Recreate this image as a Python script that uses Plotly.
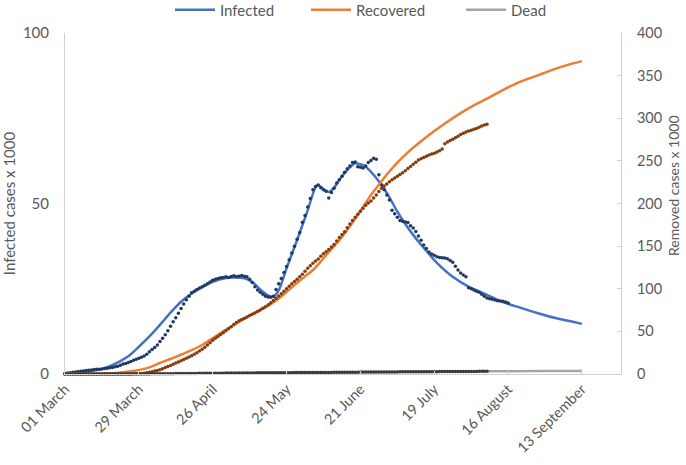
import pandas as pd
import plotly.graph_objects as go

start_date = "2020-03-01"

# Observed (daily, thousands)
infected_obs = [
    0.2, 0.3, 0.4, 0.5, 0.6, 0.7, 0.8, 0.9, 1.0, 1.1,
    1.2, 1.3, 1.4, 1.4, 1.5, 1.6, 1.7, 1.8, 1.9, 2.1,
    2.3, 2.6, 2.9, 3.1, 3.4, 3.7, 4.0, 4.3, 4.6, 4.9,
    5.3, 5.8, 6.5, 7.2, 7.8, 8.5, 9.5, 10.5, 11.5, 12.7,
    14.0, 15.3, 16.5, 17.8, 19.2, 20.5, 21.8, 22.8, 23.8, 24.3,
    24.8, 25.2, 25.6, 26.0, 26.5, 27.0, 27.5, 27.8, 28.0, 28.2,
    28.3, 28.5, 28.3, 28.6, 28.8, 28.6, 28.7, 28.9, 28.7, 28.5,
    27.8, 26.8, 25.6, 24.6, 24.0, 23.4, 22.8, 22.6, 22.5, 22.8,
    24.8, 26.5, 28.0, 29.8, 31.5, 33.5, 35.5, 37.5, 39.5, 41.5,
    44.5, 46.5, 49.0, 51.5, 54.0, 55.0, 55.4, 54.6, 54.0, 53.6,
    51.6, 53.2, 54.5, 56.0, 57.0, 58.0, 59.2, 60.2, 61.0, 62.0,
    62.2, 60.8, 60.6, 60.4, 61.0, 62.0, 62.6, 63.3, 63.0, 58.4,
    55.5, 54.0, 52.5, 51.0, 48.0, 47.0, 46.0, 45.0, 44.8, 44.6,
    44.4, 43.5, 42.8, 41.8, 40.5, 39.2, 37.8, 36.8, 35.8, 35.2,
    34.8, 34.4, 34.2, 34.1, 34.0, 33.8, 33.3, 32.8, 31.6, 30.5,
    29.6, 29.0, 28.5, 25.3, 25.0, 24.6, 24.3, 24.0, 23.4, 22.8,
    22.3, 22.1, 21.9, 21.7, 21.5, 21.4, 21.3, 21.1, 20.8,
]

recovered_obs = [
    0, 0, 0, 0, 0, 0, 0, 0, 0, 0,
    0, 0, 0, 0, 0, 0, 0, 0, 0, 0,
    0, 0, 0, 0, 0, 0, 0.2, 0.3, 0.5, 0.7,
    1.0, 1.4, 2.0, 2.7, 3.5, 4.2, 5.0, 6.2, 7.5, 8.8,
    10.0, 11.5, 13.0, 14.2, 15.5, 17.0, 18.5, 20.0, 21.5, 23.2,
    25.0, 27.0, 29.0, 31.5, 34.0, 36.8, 39.5, 41.8, 44.0, 46.2,
    48.5, 50.8, 53.0, 55.5, 58.0, 60.3, 62.5, 64.0, 65.5, 67.0,
    68.5, 70.0, 71.5, 73.2, 75.0, 77.0, 79.0, 81.2, 83.5, 86.2,
    89.0, 91.5, 94.0, 97.0, 100.0, 103.0, 106.0, 108.5, 111.0, 114.0,
    117.0, 120.5, 124.0, 127.0, 130.0, 132.5, 135.0, 138.0, 141.0, 143.5,
    146.0, 149.0, 152.0, 156.0, 160.0, 163.5, 167.0, 171.5, 176.0, 180.0,
    184.0, 187.5, 191.0, 194.5, 198.0, 200.5, 203.0, 206.5, 210.0, 214.0,
    218.0, 220.5, 223.0, 225.5, 228.0, 230.0, 232.0, 234.0, 236.0, 238.5,
    241.0, 243.5, 246.0, 248.5, 251.0, 252.5, 254.0, 255.5, 257.0, 258.0,
    259.0, 260.5, 262.0, 264.0, 270.0, 272.0, 274.0, 275.5, 277.0, 279.0,
    281.0, 282.5, 284.0, 285.0, 286.0, 287.0, 288.0, 289.5, 291.0, 292.0, 293.0,
]

dead_obs = [
    0, 0, 0, 0, 0, 0, 0, 0, 0, 0,
    0, 0, 0, 0, 0, 0, 0, 0, 0, 0,
    0, 0, 0, 0, 0, 0, 0, 0, 0, 0,
    0.1, 0.1, 0.1, 0.2, 0.2, 0.2, 0.3, 0.3, 0.3, 0.4,
    0.4, 0.4, 0.5, 0.5, 0.5, 0.6, 0.6, 0.6, 0.7, 0.7,
    0.7, 0.8, 0.8, 0.8, 0.9, 0.9, 0.9, 1.0, 1.0, 1.0,
    1.0, 1.1, 1.1, 1.1, 1.1, 1.2, 1.2, 1.2, 1.2, 1.3,
    1.3, 1.3, 1.3, 1.4, 1.4, 1.4, 1.4, 1.5, 1.5, 1.5,
    1.5, 1.5, 1.6, 1.6, 1.6, 1.6, 1.6, 1.7, 1.7, 1.7,
    1.7, 1.7, 1.8, 1.8, 1.8, 1.8, 1.8, 1.9, 1.9, 1.9,
    1.9, 1.9, 2.0, 2.0, 2.0, 2.0, 2.0, 2.1, 2.1, 2.1,
    2.1, 2.1, 2.2, 2.2, 2.2, 2.2, 2.2, 2.3, 2.3, 2.3,
    2.3, 2.3, 2.4, 2.4, 2.4, 2.4, 2.4, 2.5, 2.5, 2.5,
    2.5, 2.5, 2.6, 2.6, 2.6, 2.6, 2.6, 2.7, 2.7, 2.7,
    2.7, 2.7, 2.8, 2.8, 2.8, 2.8, 2.8, 2.9, 2.9, 2.9,
    2.9, 2.9, 3.0, 3.0, 3.0, 3.0, 3.0, 3.1, 3.1, 3.1, 3.1,
]

# Model curves (day offset from start, thousands)
infected_model_days = [0, 7, 14, 17, 21, 24, 28, 32, 36, 40, 44, 48, 52, 56, 60, 64, 68, 71, 74, 77,
                       79, 81, 84, 88, 92, 95, 96, 98, 100, 102, 104, 107, 110, 112, 114, 116, 118,
                       120, 123, 126, 129, 132, 135, 138, 141, 147, 153, 160, 166, 172, 179, 186, 196]
infected_model = [0, 0.5, 1.5, 2.3, 3.8, 5.2, 8.0, 11.0, 14.4, 18.0, 21.2, 23.6, 25.5, 27.0, 28.0,
                  28.3, 28.1, 27.0, 24.8, 23.0, 22.7, 24.5, 31.0, 39.3, 48.0, 54.8, 55.4, 54.2,
                  53.4, 54.6, 56.9, 59.8, 61.8, 61.5, 60.8, 59.3, 57.5, 55.5, 51.8, 47.6, 44.0,
                  40.8, 37.9, 35.2, 32.6, 28.5, 25.6, 23.2, 21.1, 19.6, 17.9, 16.4, 14.7]

recovered_model_days = [0, 14, 18, 22, 26, 30, 33, 36, 39, 42, 45, 48, 52, 55, 58, 61, 64, 67, 70,
                        74, 78, 82, 85, 88, 91, 94, 97, 100, 104, 107, 110, 113, 116, 119, 122, 126,
                        130, 135, 140, 145, 150, 155, 160, 166, 172, 179, 185, 190, 196]
recovered_model = [0, 0.3, 1.0, 2.0, 3.5, 6.0, 9.0, 13.0, 16.5, 20.0, 24.0, 28.0, 34.0, 40.0, 46.0,
                   52.0, 57.5, 63.0, 68.5, 75.0, 82.0, 91.0, 99.0, 107.0, 114.5, 122.0, 132.0,
                   143.0, 157.0, 169.0, 182.0, 196.0, 210.0, 222.0, 234.0, 248.0, 260.0, 273.0,
                   285.0, 296.0, 306.0, 315.0, 323.0, 333.0, 342.0, 350.0, 357.0, 362.0, 367.0]

dead_model_days = [0, 20, 40, 60, 80, 100, 120, 140, 160, 180, 196]
dead_model = [0, 0, 0.3, 1.0, 1.5, 1.9, 2.3, 2.7, 3.1, 3.4, 3.6]

tick_dates = ["2020-03-01", "2020-03-29", "2020-04-26", "2020-05-24",
              "2020-06-21", "2020-07-19", "2020-08-16", "2020-09-13"]
tick_labels = ["01 March", "29 March", "26 April", "24 May",
               "21 June", "19 July", "16 August", "13 September"]

base = pd.Timestamp(start_date)


def daily(values):
    return [base + pd.Timedelta(days=i) for i in range(len(values))]


def at_days(days):
    return [base + pd.Timedelta(days=d) for d in days]


FONT = "Lato"
TXT = "#595959"
AXC = "#D0D0D0"

fig = go.Figure()

fig.add_trace(go.Scatter(x=at_days(infected_model_days), y=infected_model, name="Infected",
                         mode="lines", line=dict(color="#4472C4", width=2.5, shape="spline", smoothing=0.8),
                         yaxis="y", legendwidth=81))
fig.add_trace(go.Scatter(x=at_days(recovered_model_days), y=recovered_model, name="Recovered",
                         mode="lines", line=dict(color="#ED7D31", width=2.5, shape="spline", smoothing=0.8),
                         yaxis="y2", legendwidth=100))
fig.add_trace(go.Scatter(x=at_days(dead_model_days), y=dead_model, name="Dead",
                         mode="lines", line=dict(color="#A5A5A5", width=2.5, shape="spline", smoothing=0.8),
                         yaxis="y2"))

fig.add_trace(go.Scatter(x=daily(infected_obs), y=infected_obs, mode="markers", showlegend=False,
                         marker=dict(color="#1F3864", size=3.5), yaxis="y", cliponaxis=False))
fig.add_trace(go.Scatter(x=daily(recovered_obs), y=recovered_obs, mode="markers", showlegend=False,
                         marker=dict(color="#843C0C", size=3.5), yaxis="y2", cliponaxis=False))
fig.add_trace(go.Scatter(x=daily(dead_obs), y=dead_obs, mode="markers", showlegend=False,
                         marker=dict(color="#3A3A3A", size=3.5), yaxis="y2", cliponaxis=False))

fig.update_layout(
    width=686, height=465,
    margin=dict(l=65, r=65, t=33, b=91, autoexpand=False),
    paper_bgcolor="white", plot_bgcolor="white",
    font=dict(family=FONT, size=15, color=TXT),
    showlegend=True,
    legend=dict(orientation="h", x=(170 - 65) / 556, xanchor="left", y=1 + (33 - 10) / 341,
                yanchor="middle",
                font=dict(family=FONT, size=15, color=TXT), itemwidth=40,
                bgcolor="rgba(0,0,0,0)"),
    xaxis=dict(type="date", range=["2020-03-01", "2020-09-27 19:00"],
               tickvals=tick_dates, ticktext=tick_labels, tickangle=-45,
               tickfont=dict(family=FONT, size=14.5, color=TXT),
               showline=True, linecolor=AXC, linewidth=1,
               ticks="inside", ticklen=3, tickcolor=AXC,
               showgrid=False, zeroline=False, automargin=False),
    yaxis=dict(range=[0, 100], tickvals=[0, 50, 100],
               tickfont=dict(family=FONT, size=15, color=TXT),
               title=dict(text="Infected cases x 1000", font=dict(family=FONT, size=15, color=TXT), standoff=8),
               showline=True, linecolor=AXC, linewidth=1, ticks="",
               ticklabelstandoff=12, automargin=False,
               showgrid=False, zeroline=False),
    yaxis2=dict(range=[0, 400], tickvals=[0, 50, 100, 150, 200, 250, 300, 350, 400],
                overlaying="y", side="right",
                tickfont=dict(family=FONT, size=14.5, color=TXT),
                showline=True, linecolor=AXC, linewidth=1,
                ticks="inside", ticklen=4, tickcolor=AXC,
                ticklabelstandoff=12, automargin=False,
                showgrid=False, zeroline=False),
    annotations=[dict(text="Removed cases x 1000", textangle=-90, showarrow=False,
                      xref="paper", yref="paper", x=1 + (673 - 621) / 556, y=(374 - 186) / 341,
                      xanchor="center", yanchor="middle",
                      font=dict(family=FONT, size=14, color=TXT))],
)

fig.write_html("out.html", post_script="document.body.style.margin='0px';",
               config={"displayModeBar": False})
